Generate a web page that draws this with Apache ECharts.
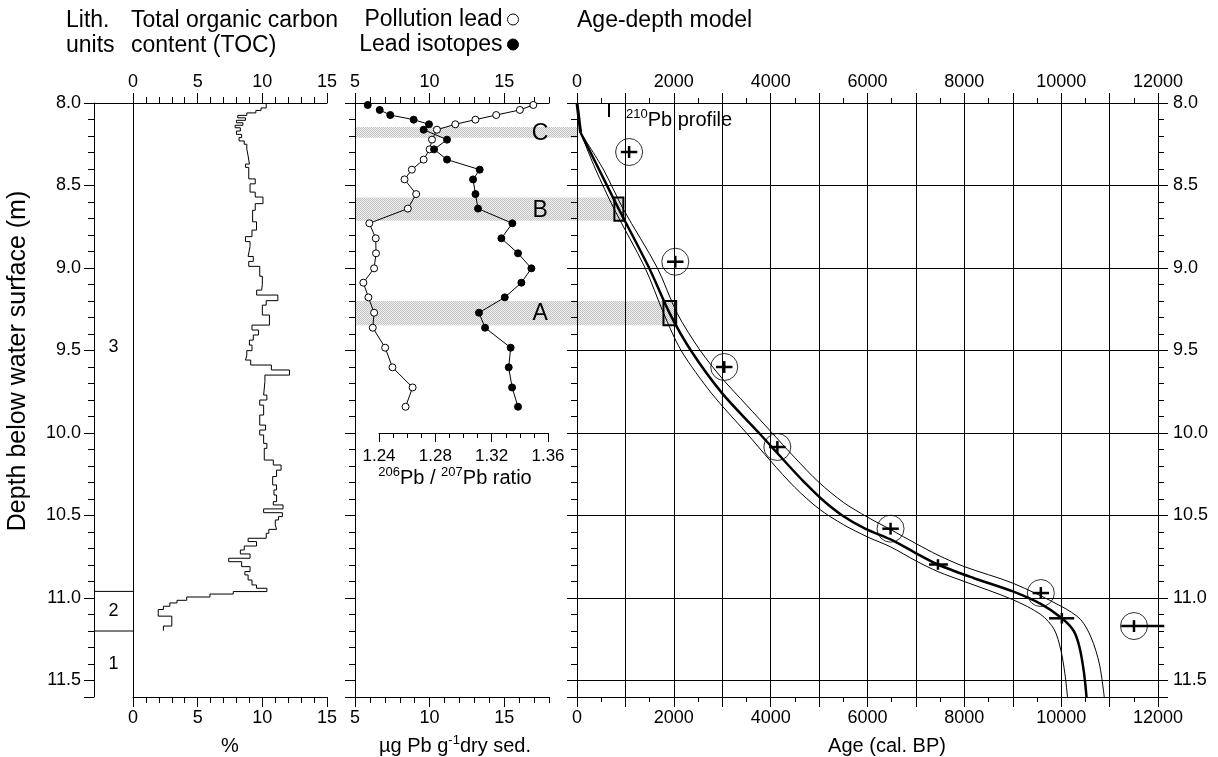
<!DOCTYPE html>
<html><head><meta charset="utf-8">
<script src="https://cdn.jsdelivr.net/npm/echarts@6/dist/echarts.min.js"></script>
<style>html,body{margin:0;padding:0;background:#fff}#c{width:1218px;height:757px}</style>
</head><body><div id="c"></div>
<script>
// ---------------- DATA ----------------
const lithBounds = [8.0, 10.96, 11.2, 11.6];
const lithNames = ['3', '2', '1'];

const tocDepth = [8.00,8.03,8.045,8.06,8.075,8.09,8.105,8.12,8.135,8.15,8.17,8.19,8.21,8.23,8.25,8.28,8.32,8.37,8.39,8.46,8.49,8.54,8.57,8.61,8.65,8.72,8.77,8.81,8.84,8.87,8.93,8.96,8.99,9.05,9.10,9.134,9.164,9.198,9.225,9.285,9.346,9.376,9.406,9.437,9.467,9.501,9.528,9.558,9.588,9.618,9.649,9.689,9.770,9.800,9.831,9.891,9.952,9.982,10.012,10.063,10.093,10.164,10.194,10.225,10.264,10.315,10.345,10.376,10.416,10.436,10.460,10.483,10.507,10.527,10.557,10.584,10.608,10.638,10.658,10.685,10.709,10.733,10.759,10.780,10.810,10.840,10.860,10.891,10.921,10.941,10.961,10.976,10.994,11.014,11.03,11.05,11.07,11.11,11.17,11.198];
const tocValue = [10.3,9.9,9.5,8.8,8.1,8.7,8.0,8.5,7.9,8.3,8.0,8.4,8.2,8.6,8.8,8.9,9.0,8.7,8.95,9.45,9.05,9.45,10.05,9.45,9.25,9.55,9.2,8.7,9.05,8.9,9.3,8.95,9.8,10.0,9.95,9.56,11.2,10.3,10.0,10.55,9.2,9.7,9.3,9.0,9.2,8.8,8.7,9.1,10.7,12.1,10.2,10.1,10.35,9.8,10.1,9.8,10.25,9.8,10.1,10.35,10.15,10.85,11.45,11.1,10.8,11.1,10.9,11.1,10.85,11.6,10.1,11.55,11.25,11.0,11.1,10.5,10.3,8.9,9.55,8.6,8.3,9.05,7.4,8.4,9.05,8.65,8.9,9.2,9.55,10.35,7.75,5.95,4.15,3.4,2.85,2.35,1.95,3.0,2.35];

const leadDepth = [8.012,8.042,8.073,8.101,8.129,8.162,8.222,8.281,8.343,8.404,8.463,8.552,8.640,8.729,8.820,8.911,9.002,9.089,9.178,9.271,9.362,9.483,9.602,9.724,9.841];
const pollutionLead = [16.95,16.05,14.46,13.07,11.72,10.49,10.16,10.0,9.60,8.81,8.32,9.10,8.54,5.96,6.39,6.41,6.28,5.56,5.90,6.28,6.19,7.02,7.51,8.86,8.39];
const leadIsotope = [1.232,1.2405,1.248,1.2646,1.2755,1.2717,1.2883,1.2791,1.2883,1.3115,1.3068,1.3085,1.3103,1.3347,1.3269,1.3387,1.3482,1.3411,1.3293,1.3110,1.3153,1.3335,1.3321,1.3345,1.3387];

const bandLabel = ['C', 'B', 'A'];
const bandTop = [8.145, 8.573, 9.20];
const bandBottom = [8.21, 8.714, 9.347];
const bandAgeEnd = [25, 958, 2048];
const boxAgeMin = [null, 772, 1786];

const pbAge = [0, 75];
const pbDepth = [8.0, 8.18];

const midAge = [75, 450, 865, 1490, 1915, 2352, 3000, 3760, 4380, 4700, 5050, 5480, 5950, 6476, 6950, 7455, 8200, 9000, 9579, 10014, 10260, 10380, 10470, 10524];
const midDepth = [8.18, 8.40, 8.644, 9.0, 9.275, 9.5, 9.76, 10.0, 10.2, 10.3, 10.4, 10.5, 10.58, 10.645, 10.72, 10.797, 10.88, 10.96, 11.036, 11.123, 11.2, 11.3, 11.45, 11.6];
const upAge = [75, 540, 958, 1660, 2070, 2545, 3000, 3500, 4000, 4500, 5000, 5500, 6000, 6476, 7000, 7455, 8000, 9000, 10000, 10400, 10620, 10790, 10890];
const upDepth = [8.18, 8.40, 8.644, 9.0, 9.275, 9.5, 9.67, 9.83, 9.99, 10.15, 10.30, 10.42, 10.51, 10.585, 10.67, 10.74, 10.81, 10.91, 11.05, 11.13, 11.24, 11.40, 11.6];
const loAge = [75, 380, 770, 1407, 1790, 2150, 2780, 3500, 4000, 4500, 5000, 5500, 6000, 6476, 7000, 7455, 8000, 9000, 9579, 9855, 9993, 10076, 10131];
const loDepth = [8.18, 8.40, 8.644, 9.0, 9.275, 9.5, 9.76, 10.0, 10.17, 10.33, 10.46, 10.555, 10.63, 10.69, 10.775, 10.84, 10.90, 11.01, 11.10, 11.19, 11.315, 11.456, 11.6];

const dateAge = [1076, 2030, 3041, 4138, 6476, 9580, 11504];
const dateDepth = [8.297, 8.962, 9.60, 10.085, 10.58, 10.97, 11.17];
const dateAgeLo = [906, 1860, 2871, 3968, 6306, 9410, 11240];
const dateAgeHi = [1246, 2200, 3211, 4308, 6646, 9750, 12130];
const dateDepthErr = [0.036, 0.036, 0.036, 0.036, 0.036, 0.036, 0.036];

const crossAge = [7455, 10014];
const crossDepth = [10.797, 11.123];
const crossAgeLo = [7270, 9750];
const crossAgeHi = [7660, 10270];
const crossDepthErr = [0.032, 0.032];

// ---------------- CHART ----------------
const FONT = "'Liberation Sans', Arial, Helvetica, sans-serif";
const TICK_FS = 18, TITLE_FS = 23;
const chart = echarts.init(document.getElementById('c'), null, {renderer: 'canvas'});
const BLK = {color: '#000', width: 1};
const D_MIN = 8.0, D_MAX = 11.6;
const LEAD_MIN = 5, LEAD_MAX = 18;
const AGE_X = 8;

function depthFmt(v) {
  return (Math.abs(v * 2 - Math.round(v * 2)) < 1e-6 && v < D_MAX - 1e-6) ? v.toFixed(1) : '';
}
function yMajor(grid, pos, extra) {
  return Object.assign({type: 'value', gridIndex: grid, position: pos, inverse: true, min: D_MIN, max: D_MAX, interval: 0.5,
    axisLine: {show: true, onZero: false, lineStyle: BLK}, axisTick: {show: true, length: 10, lineStyle: BLK},
    axisLabel: {show: false}, splitLine: {show: false}}, extra || {});
}
function yMinor(grid, pos) {
  return {type: 'value', gridIndex: grid, position: pos, inverse: true, min: D_MIN, max: D_MAX, interval: 0.1,
    axisLine: {show: false, onZero: false}, axisTick: {show: true, length: 6, lineStyle: BLK},
    axisLabel: {show: false}, splitLine: {show: false}};
}
const lbl = (m, extra) => Object.assign({show: true, color: '#000', fontSize: TICK_FS, fontFamily: FONT, margin: m}, extra || {});

// stipple pattern for shaded bands
const pc = document.createElement('canvas'); pc.width = 2; pc.height = 2;
const pcx = pc.getContext('2d');
pcx.fillStyle = '#f0f0f0'; pcx.fillRect(0, 0, 2, 2);
pcx.fillStyle = '#c2c2c2'; pcx.fillRect(0, 0, 1, 1); pcx.fillRect(1, 1, 1, 1);
const bandFill = {image: pc, repeat: 'repeat'};

const grid = [
  {left: 94, top: 103, width: 39, height: 594},   // 0 lith
  {left: 133, top: 103, width: 194, height: 594}, // 1 TOC
  {left: 355, top: 103, width: 194, height: 594}, // 2 lead
  {left: 379, top: 103, width: 169, height: 330}, // 3 isotopes
  {left: 577, top: 103, width: 581, height: 594}  // 4 age
];

const leadMinorTicks = [];
for (let v = LEAD_MIN; v <= LEAD_MAX; v++) leadMinorTicks.push(v);

const xAxis = [
  {type: 'value', gridIndex: 0, position: 'top', min: 0, max: 1, axisLine: {show: true, onZero: false, lineStyle: BLK}, axisTick: {show: false}, axisLabel: {show: false}, splitLine: {show: false}},
  {type: 'value', gridIndex: 1, position: 'top', min: 0, max: 15, interval: 5, axisLine: {onZero: false, lineStyle: BLK}, axisTick: {length: 10, lineStyle: BLK}, minorTick: {show: true, splitNumber: 5, length: 6, lineStyle: BLK}, axisLabel: lbl(12), splitLine: {show: false}},
  {type: 'value', gridIndex: 1, position: 'bottom', min: 0, max: 15, interval: 5, axisLine: {onZero: false, lineStyle: BLK}, axisTick: {length: 10, lineStyle: BLK}, minorTick: {show: true, splitNumber: 5, length: 6, lineStyle: BLK}, axisLabel: lbl(12), splitLine: {show: false}},
  {type: 'value', gridIndex: 2, position: 'top', min: LEAD_MIN, max: LEAD_MAX, axisLine: {onZero: false, lineStyle: BLK}, axisTick: {length: 10, lineStyle: BLK, customValues: [5, 10, 15]}, axisLabel: lbl(12, {customValues: [5, 10, 15]}), splitLine: {show: false}},
  {type: 'value', gridIndex: 2, position: 'top', min: LEAD_MIN, max: LEAD_MAX, axisLine: {show: false, onZero: false}, axisTick: {length: 6, lineStyle: BLK, customValues: leadMinorTicks}, axisLabel: {show: false}, splitLine: {show: false}},
  {type: 'value', gridIndex: 2, position: 'bottom', min: LEAD_MIN, max: LEAD_MAX, axisLine: {onZero: false, lineStyle: BLK}, axisTick: {length: 10, lineStyle: BLK, customValues: [5, 10, 15]}, axisLabel: lbl(12, {customValues: [5, 10, 15]}), splitLine: {show: false}},
  {type: 'value', gridIndex: 2, position: 'bottom', min: LEAD_MIN, max: LEAD_MAX, axisLine: {show: false, onZero: false}, axisTick: {length: 6, lineStyle: BLK, customValues: leadMinorTicks}, axisLabel: {show: false}, splitLine: {show: false}},
  {type: 'value', gridIndex: 3, position: 'bottom', min: 1.24, max: 1.36, interval: 0.04, axisLine: {onZero: false, lineStyle: BLK}, axisTick: {length: 9, lineStyle: BLK}, minorTick: {show: true, splitNumber: 4, length: 5, lineStyle: BLK}, axisLabel: lbl(15, {fontSize: 17, formatter: v => v.toFixed(2)}), splitLine: {show: false}},
  {type: 'value', gridIndex: 4, position: 'top', min: 0, max: 12000, interval: 1000, axisLine: {onZero: false, lineStyle: BLK}, axisTick: {length: 10, lineStyle: BLK}, minorTick: {show: true, splitNumber: 2, length: 5, lineStyle: BLK}, axisLabel: lbl(12, {formatter: v => (v % 2000 === 0 ? String(v) : '')}), splitLine: {show: true, lineStyle: {color: '#000', width: 1}}},
  {type: 'value', gridIndex: 4, position: 'bottom', min: 0, max: 12000, interval: 1000, axisLine: {onZero: false, lineStyle: BLK}, axisTick: {length: 10, lineStyle: BLK}, minorTick: {show: true, splitNumber: 2, length: 5, lineStyle: BLK}, axisLabel: lbl(12, {formatter: v => (v % 2000 === 0 ? String(v) : '')}), splitLine: {show: false}}
];

const yAxis = [
  yMajor(0, 'left', {axisLabel: lbl(13, {formatter: depthFmt})}), // 0
  yMinor(0, 'left'),                                               // 1
  {type: 'value', gridIndex: 1, position: 'left', inverse: true, min: D_MIN, max: D_MAX, axisLine: {show: true, onZero: false, lineStyle: BLK}, axisTick: {show: false}, axisLabel: {show: false}, splitLine: {show: false}}, // 2
  yMajor(2, 'left'),                                               // 3
  yMinor(2, 'left'),                                               // 4
  {type: 'value', gridIndex: 3, show: false, inverse: true, min: 8, max: 10}, // 5
  yMajor(4, 'left', {splitLine: {show: true, lineStyle: {color: '#000', width: 1}}}), // 6
  yMinor(4, 'left'),                                               // 7
  yMajor(4, 'right', {axisLabel: lbl(15, {formatter: depthFmt})}), // 8
  yMinor(4, 'right')                                               // 9
];

const zip = (a, b) => a.map((v, i) => [v, b[i]]);

// TOC step profile built from the arrays
const tocPts = [];
tocValue.forEach((v, i) => { tocPts.push([v, tocDepth[i]]); tocPts.push([v, tocDepth[i + 1]]); });

const series = [];
// lith boundaries
lithBounds.slice(1, -1).forEach(b => series.push({type: 'line', xAxisIndex: 0, yAxisIndex: 0, data: [[0, b], [1, b]], showSymbol: false, symbol: 'none', lineStyle: {color: '#000', width: 1}, silent: true, z: 3}));
// lith labels
series.push({type: 'custom', xAxisIndex: 0, yAxisIndex: 0, clip: false, silent: true, z: 3,
  data: lithNames.map((n, i) => [0.5, (lithBounds[i] + lithBounds[i + 1]) / 2]),
  renderItem: (params, api) => {
    const p = api.coord([api.value(0), api.value(1)]);
    return {type: 'text', x: p[0], y: p[1], style: {text: lithNames[params.dataIndex], fill: '#000', font: TICK_FS + 'px ' + FONT, align: 'center', verticalAlign: 'middle'}};
  }});
// TOC
series.push({type: 'line', name: 'TOC', xAxisIndex: 1, yAxisIndex: 2, data: tocPts, showSymbol: false, symbol: 'none', lineStyle: {color: '#000', width: 1}, z: 3, silent: true});
// shaded bands with labels
series.push({type: 'custom', xAxisIndex: 3, yAxisIndex: 3, clip: false, silent: true, z: -1,
  data: bandLabel.map((l, i) => [bandTop[i], bandBottom[i], bandAgeEnd[i]]),
  renderItem: (params, api) => {
    const top = api.value(0), bot = api.value(1), ageEnd = api.value(2);
    const p0 = api.coord([LEAD_MIN, top]);
    const p1 = api.coord([LEAD_MIN, bot]);
    const xr = chart.convertToPixel({xAxisIndex: AGE_X}, ageEnd);
    const lab = api.coord([17.4, (top + bot) / 2]);
    return {type: 'group', children: [
      {type: 'rect', shape: {x: p0[0], y: p0[1], width: xr - p0[0], height: p1[1] - p0[1]}, style: {fill: bandFill}},
      {type: 'text', x: lab[0], y: lab[1] + 1, style: {text: bandLabel[params.dataIndex], fill: '#000', font: TITLE_FS + 'px ' + FONT, align: 'center', verticalAlign: 'middle'}}
    ]};
  }});
// lead
series.push({type: 'line', name: 'Pollution lead', xAxisIndex: 3, yAxisIndex: 3, data: zip(pollutionLead, leadDepth), symbol: 'circle', symbolSize: 7, showSymbol: true,
  itemStyle: {color: '#fff', borderColor: '#000', borderWidth: 1}, lineStyle: {color: '#000', width: 1}, z: 4, silent: true});
series.push({type: 'line', name: 'Lead isotopes', xAxisIndex: 7, yAxisIndex: 5, data: zip(leadIsotope, leadDepth), symbol: 'circle', symbolSize: 7, showSymbol: true, clip: false,
  itemStyle: {color: '#000', borderColor: '#000', borderWidth: 1}, lineStyle: {color: '#000', width: 1}, z: 4, silent: true});
// age-depth model
series.push({type: 'line', xAxisIndex: AGE_X, yAxisIndex: 6, data: zip(pbAge, pbDepth), symbol: 'none', lineStyle: {color: '#000', width: 3}, z: 4, silent: true});
series.push({type: 'line', xAxisIndex: AGE_X, yAxisIndex: 6, data: zip(upAge, upDepth), symbol: 'none', smooth: 0.3, lineStyle: {color: '#000', width: 1}, z: 4, silent: true});
series.push({type: 'line', xAxisIndex: AGE_X, yAxisIndex: 6, data: zip(loAge, loDepth), symbol: 'none', smooth: 0.3, lineStyle: {color: '#000', width: 1}, z: 4, silent: true});
series.push({type: 'line', xAxisIndex: AGE_X, yAxisIndex: 6, data: zip(midAge, midDepth), symbol: 'none', smooth: 0.3, lineStyle: {color: '#000', width: 2.5}, z: 5, silent: true});
// boxes
series.push({type: 'custom', xAxisIndex: AGE_X, yAxisIndex: 6, clip: false, silent: true, z: 5,
  data: bandLabel.map((l, i) => [boxAgeMin[i], bandAgeEnd[i], bandTop[i], bandBottom[i]]).filter(d => d[0] !== null),
  renderItem: (params, api) => {
    const a = api.coord([api.value(0), api.value(2)]);
    const b = api.coord([api.value(1), api.value(3)]);
    return {type: 'rect', shape: {x: a[0], y: a[1], width: b[0] - a[0], height: b[1] - a[1]}, style: {fill: null, stroke: '#000', lineWidth: 2}};
  }});
// radiocarbon dates: circles
series.push({type: 'scatter', xAxisIndex: AGE_X, yAxisIndex: 6, data: zip(dateAge, dateDepth), symbol: 'circle', symbolSize: 27,
  itemStyle: {color: 'rgba(0,0,0,0)', borderColor: '#000', borderWidth: 1}, z: 6, silent: true, clip: false});
// error crosses
function crossRender(params, api) {
  const l = api.coord([api.value(2), api.value(1)]), r = api.coord([api.value(3), api.value(1)]);
  const t = api.coord([api.value(0), api.value(1) - api.value(4)]), b = api.coord([api.value(0), api.value(1) + api.value(4)]);
  const st = {stroke: '#000', lineWidth: 2.5};
  return {type: 'group', children: [
    {type: 'line', shape: {x1: l[0], y1: l[1], x2: r[0], y2: r[1]}, style: st},
    {type: 'line', shape: {x1: t[0], y1: t[1], x2: b[0], y2: b[1]}, style: st}
  ]};
}
series.push({type: 'custom', xAxisIndex: AGE_X, yAxisIndex: 6, clip: false, silent: true, z: 6,
  data: dateAge.map((a, i) => [a, dateDepth[i], dateAgeLo[i], dateAgeHi[i], dateDepthErr[i]]), renderItem: crossRender});
series.push({type: 'custom', xAxisIndex: AGE_X, yAxisIndex: 6, clip: false, silent: true, z: 6,
  data: crossAge.map((a, i) => [a, crossDepth[i], crossAgeLo[i], crossAgeHi[i], crossDepthErr[i]]), renderItem: crossRender});

const tf = (s) => s + 'px ' + FONT;
const T = (text, x, y, extra) => ({type: 'text', x, y, silent: true, style: Object.assign({text, fill: '#000', font: tf(TITLE_FS), align: 'left', verticalAlign: 'middle'}, extra || {})});
const richSup = {n: {fontSize: 20, fontFamily: FONT, verticalAlign: 'bottom', lineHeight: 22}, s: {fontSize: 13, fontFamily: FONT, verticalAlign: 'top', lineHeight: 13}};

const graphic = [
  T('Lith.', 66, 21), T('units', 66, 46),
  T('Total organic carbon', 131, 21), T('content (TOC)', 131, 46),
  T('Age-depth model', 577, 21),
  {type: 'line', silent: true, shape: {x1: 609, y1: 104, x2: 609, y2: 117}, style: {stroke: '#000', lineWidth: 2}},
  {type: 'text', silent: true, x: 626, y: 119, style: {text: '{s|210}{n|Pb profile}', rich: richSup, fill: '#000', align: 'left', verticalAlign: 'middle'}},
  T('%', 230, 746, {align: 'center', font: tf(20)}),
  {type: 'text', silent: true, x: 455, y: 745, style: {text: '{n|\u00b5g Pb g}{s|-1}{n|dry sed.}', rich: richSup, fill: '#000', align: 'center', verticalAlign: 'middle'}},
  {type: 'text', silent: true, x: 455, y: 477, style: {text: '{s|206}{n|Pb / }{s|207}{n|Pb ratio}', rich: richSup, fill: '#000', align: 'center', verticalAlign: 'middle'}},
  T('Age (cal. BP)', 887, 746, {align: 'center', font: tf(20)}),
  {type: 'text', silent: true, x: 18, y: 361, rotation: Math.PI / 2, style: {text: 'Depth below water surface (m)', fill: '#000', font: tf(25), align: 'center', verticalAlign: 'middle'}}
];

const legendBase = {orient: 'vertical', align: 'right', itemWidth: 11, itemHeight: 11, itemGap: 4, selectedMode: false,
  textStyle: {color: '#000', fontSize: TITLE_FS, fontFamily: FONT}, padding: 0};
const legend = [
  Object.assign({}, legendBase, {right: 1218 - 519, top: 8, data: [{name: 'Pollution lead', icon: 'circle', itemStyle: {color: '#fff', borderColor: '#000', borderWidth: 1}}]}),
  Object.assign({}, legendBase, {right: 1218 - 519, top: 33, data: [{name: 'Lead isotopes', icon: 'circle', itemStyle: {color: '#000', borderColor: '#000', borderWidth: 1}}]})
];

chart.setOption({animation: false, backgroundColor: '#fff', textStyle: {fontFamily: FONT}, grid, xAxis, yAxis, series, graphic, legend});
</script></body></html>
